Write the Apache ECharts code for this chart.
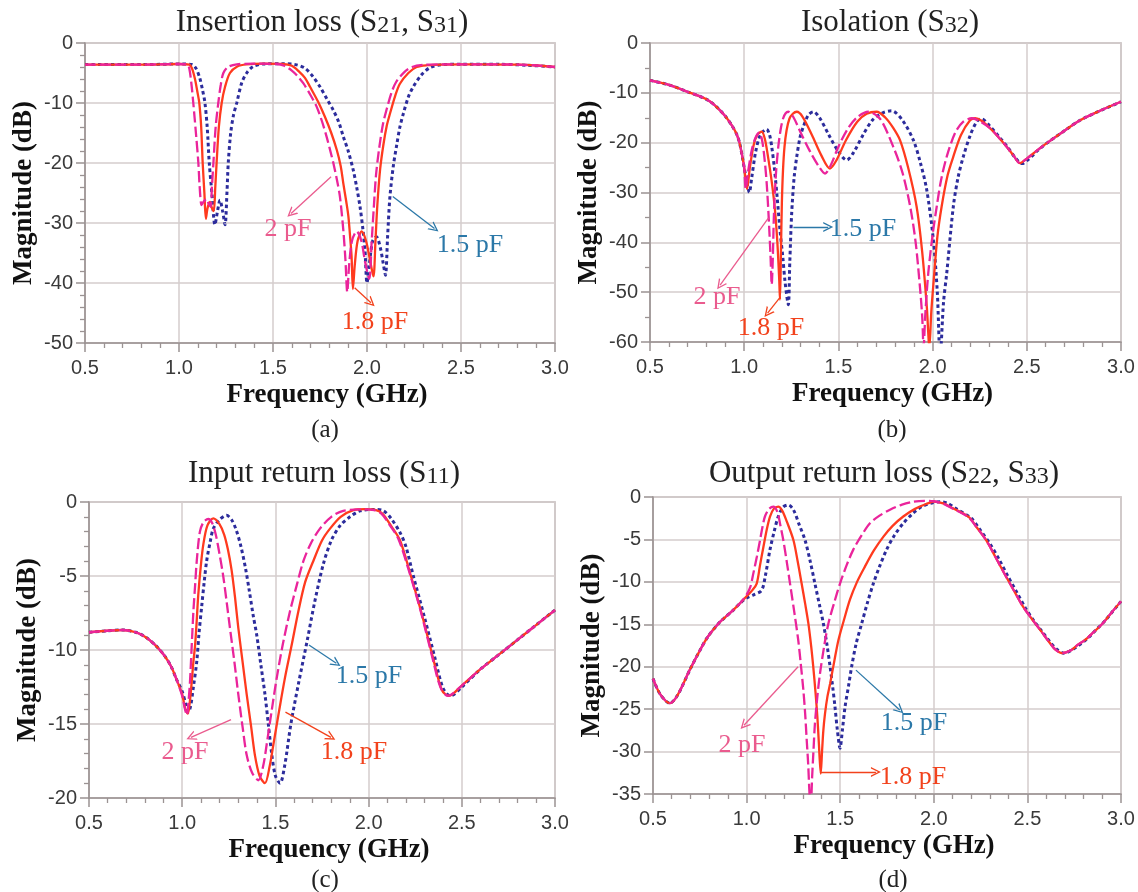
<!DOCTYPE html>
<html>
<head>
<meta charset="utf-8">
<title>Tunable response vs. capacitance</title>
<script src="https://cdn.jsdelivr.net/npm/echarts/dist/echarts.min.js"></script>
<style>
  html, body { margin: 0; padding: 0; background: #ffffff; }
  #chart { width: 1138px; height: 892px; }
</style>
</head>
<body>
<div id="chart"></div>
<script>
// ---------- data: [frequency (GHz), magnitude (dB)] ----------
const capLabels = ['1.5 pF', '1.8 pF', '2 pF'];
const freqTicks = [0.5, 1.0, 1.5, 2.0, 2.5, 3.0];

// (a) insertion loss S21, S31
const ilC15 = [[0.5,-3.6],[0.8,-3.6],[1.0,-3.5],[1.07,-3.6],[1.09,-4.2],[1.11,-5.8],[1.125,-7.8],[1.138,-10],[1.15,-14],[1.161,-20],[1.175,-25],[1.191,-30.3],[1.205,-28],[1.218,-26.2],[1.232,-28],[1.245,-30.3],[1.255,-25],[1.262,-20],[1.275,-15],[1.29,-12],[1.307,-10],[1.333,-6.7],[1.36,-5],[1.395,-3.9],[1.45,-3.5],[1.55,-3.45],[1.62,-3.6],[1.67,-4.2],[1.71,-5.5],[1.75,-7.3],[1.79,-9.5],[1.821,-11.2],[1.85,-13.2],[1.874,-15.6],[1.9,-18],[1.927,-21.2],[1.945,-24],[1.963,-27.3],[1.978,-31],[1.989,-34.5],[2.0,-40],[2.012,-37],[2.03,-33],[2.05,-32.3],[2.07,-34],[2.085,-36.5],[2.098,-38.7],[2.11,-32],[2.122,-25.6],[2.14,-20.5],[2.158,-17],[2.175,-14],[2.193,-11.8],[2.22,-9],[2.246,-7.3],[2.29,-5.3],[2.335,-4.1],[2.4,-3.6],[2.5,-3.55],[2.7,-3.55],[2.85,-3.7],[3.0,-4.0]];
const ilC18 = [[0.5,-3.6],[0.8,-3.6],[1.0,-3.5],[1.055,-3.6],[1.07,-4.3],[1.085,-6],[1.097,-8],[1.108,-10],[1.118,-14],[1.126,-20],[1.135,-25],[1.143,-29.3],[1.152,-27.5],[1.165,-26.5],[1.175,-27.5],[1.185,-28],[1.193,-24],[1.2,-20],[1.212,-14],[1.227,-10],[1.245,-7.3],[1.271,-5],[1.31,-3.9],[1.36,-3.55],[1.45,-3.45],[1.55,-3.5],[1.6,-3.8],[1.64,-4.8],[1.67,-5.8],[1.697,-7.3],[1.74,-9.8],[1.776,-12.3],[1.81,-15],[1.839,-17.8],[1.86,-20.5],[1.874,-23.4],[1.89,-26.5],[1.901,-28.9],[1.912,-33],[1.918,-35.6],[1.925,-41],[1.935,-37],[1.95,-33],[1.972,-31.4],[1.995,-33],[2.015,-36],[2.034,-38.9],[2.045,-33],[2.055,-27],[2.07,-21],[2.087,-17],[2.105,-13.8],[2.122,-11.8],[2.15,-8.8],[2.175,-6.8],[2.22,-5],[2.264,-4.0],[2.32,-3.7],[2.4,-3.6],[2.6,-3.55],[2.8,-3.6],[2.9,-3.75],[3.0,-4.0]];
const ilC20 = [[0.5,-3.6],[0.8,-3.6],[1.0,-3.5],[1.045,-3.6],[1.055,-4.3],[1.065,-6.5],[1.076,-10],[1.09,-15],[1.103,-20],[1.11,-24],[1.12,-27],[1.13,-26.5],[1.145,-26],[1.158,-26.8],[1.168,-27.3],[1.175,-24],[1.183,-20],[1.195,-14],[1.209,-10],[1.222,-7],[1.236,-5],[1.26,-4],[1.307,-3.55],[1.4,-3.45],[1.52,-3.5],[1.56,-3.8],[1.6,-4.6],[1.63,-5.5],[1.661,-6.7],[1.7,-8.7],[1.732,-10.6],[1.76,-13],[1.785,-15.6],[1.805,-18],[1.821,-20],[1.84,-22.8],[1.856,-25.6],[1.874,-31.2],[1.885,-36],[1.895,-41.5],[1.905,-37],[1.92,-33],[1.945,-31.4],[1.97,-33],[1.99,-36.5],[2.012,-39.3],[2.025,-33],[2.035,-28],[2.048,-22],[2.065,-17.5],[2.085,-13.5],[2.105,-11],[2.13,-8.3],[2.155,-6.5],[2.2,-4.8],[2.24,-4.0],[2.3,-3.65],[2.4,-3.55],[2.6,-3.55],[2.8,-3.6],[2.9,-3.75],[3.0,-4.0]];

// (b) isolation S32
const isoC15 = [[0.5,-7.5],[0.6,-8.4],[0.7,-9.8],[0.8,-11.3],[0.85,-12.7],[0.9,-14.7],[0.935,-16.6],[0.96,-18.3],[0.975,-20],[0.99,-22.8],[1.0,-25],[1.015,-28],[1.027,-30],[1.04,-27],[1.06,-22],[1.085,-18.5],[1.119,-17.3],[1.135,-18.5],[1.146,-20.8],[1.16,-25],[1.175,-31],[1.19,-37.6],[1.205,-43],[1.217,-48],[1.234,-52.5],[1.242,-44],[1.252,-34.2],[1.265,-27],[1.279,-22.8],[1.296,-19],[1.314,-16.8],[1.34,-14.5],[1.367,-13.8],[1.4,-15],[1.45,-18.5],[1.5,-21.8],[1.544,-23.5],[1.58,-22],[1.63,-18.5],[1.68,-15.5],[1.73,-14.1],[1.782,-13.6],[1.84,-15.5],[1.898,-19.5],[1.935,-24],[1.969,-29.5],[2.004,-39.5],[2.025,-50],[2.04,-63],[2.058,-52],[2.075,-46.2],[2.11,-32.8],[2.135,-27],[2.163,-22.8],[2.2,-18.5],[2.234,-15.8],[2.26,-15.2],[2.3,-16.5],[2.35,-18.7],[2.4,-21],[2.44,-23.1],[2.475,-24.2],[2.51,-23.3],[2.56,-21.5],[2.61,-20],[2.7,-17.6],[2.783,-15.5],[2.9,-13.4],[3.0,-11.8]];
const isoC18 = [[0.5,-7.5],[0.6,-8.4],[0.7,-9.8],[0.8,-11.3],[0.85,-12.7],[0.9,-14.7],[0.935,-16.6],[0.96,-18.3],[0.975,-20],[0.99,-22.8],[1.0,-25],[1.015,-29.3],[1.03,-25],[1.05,-20.5],[1.07,-18.4],[1.093,-17.8],[1.11,-19.3],[1.125,-22.5],[1.145,-27.5],[1.162,-33],[1.176,-40],[1.186,-47.6],[1.19,-51.5],[1.195,-42],[1.2,-32],[1.206,-25.5],[1.214,-20.8],[1.225,-17.5],[1.24,-15.2],[1.258,-14.2],[1.279,-13.8],[1.31,-14.8],[1.36,-18.5],[1.41,-22.6],[1.455,-25.2],[1.49,-23.5],[1.54,-19.5],[1.6,-15.8],[1.65,-14.2],[1.703,-13.8],[1.75,-15.0],[1.79,-17],[1.827,-19.5],[1.87,-25],[1.915,-32.8],[1.945,-42],[1.969,-52.8],[1.983,-61],[1.993,-54],[2.004,-48.5],[2.025,-39],[2.048,-32.8],[2.08,-26.5],[2.11,-22.8],[2.15,-18.5],[2.199,-15.5],[2.226,-15.1],[2.26,-15.6],[2.305,-17.1],[2.35,-18.9],[2.393,-20.8],[2.43,-22.6],[2.464,-24.1],[2.5,-23.2],[2.55,-21.7],[2.606,-20.1],[2.7,-17.6],[2.783,-15.5],[2.9,-13.4],[3.0,-11.8]];
const isoC20 = [[0.5,-7.5],[0.6,-8.4],[0.7,-9.8],[0.8,-11.3],[0.85,-12.7],[0.9,-14.7],[0.935,-16.6],[0.96,-18.3],[0.975,-20],[0.99,-22.8],[1.0,-25],[1.008,-29.3],[1.02,-26],[1.04,-21.5],[1.06,-19],[1.08,-18],[1.095,-19.5],[1.11,-24],[1.12,-28.5],[1.13,-35],[1.14,-43],[1.146,-48.5],[1.152,-43],[1.158,-34.2],[1.168,-26.5],[1.181,-20.8],[1.195,-17],[1.207,-15.1],[1.22,-14.1],[1.234,-13.8],[1.26,-14.8],[1.3,-18],[1.35,-21.8],[1.4,-25],[1.429,-26.2],[1.46,-24.5],[1.5,-20.8],[1.55,-17.2],[1.6,-14.9],[1.659,-13.8],[1.721,-15.2],[1.792,-20.9],[1.84,-26],[1.881,-32.8],[1.91,-40],[1.934,-49.5],[1.945,-55],[1.952,-61],[1.962,-54],[1.977,-46.2],[2.0,-38.5],[2.022,-32.8],[2.045,-27.5],[2.075,-22.8],[2.12,-18],[2.163,-15.8],[2.208,-15.1],[2.25,-15.7],[2.305,-17.1],[2.35,-18.9],[2.393,-20.8],[2.43,-22.6],[2.464,-24.1],[2.5,-23.2],[2.55,-21.7],[2.606,-20.1],[2.7,-17.6],[2.783,-15.5],[2.9,-13.4],[3.0,-11.8]];

// (c) input return loss S11
const s11C15 = [[0.5,-8.8],[0.6,-8.7],[0.68,-8.65],[0.75,-8.8],[0.8,-9.1],[0.85,-9.6],[0.9,-10.3],[0.94,-11.1],[0.97,-12],[1.0,-12.8],[1.02,-13.7],[1.033,-14.2],[1.045,-13.8],[1.06,-12.5],[1.078,-10.8],[1.09,-8.9],[1.105,-7.0],[1.118,-5.4],[1.131,-4.0],[1.15,-2.7],[1.167,-1.8],[1.2,-1.2],[1.238,-0.9],[1.265,-1.2],[1.29,-1.9],[1.315,-3.0],[1.34,-4.5],[1.36,-6.0],[1.38,-7.6],[1.4,-9.0],[1.422,-11.0],[1.444,-13.0],[1.462,-15.0],[1.48,-17.0],[1.5,-18.5],[1.525,-19.0],[1.55,-17.8],[1.583,-15.0],[1.625,-12.2],[1.67,-9.4],[1.71,-6.8],[1.757,-4.2],[1.8,-2.6],[1.847,-1.6],[1.9,-1.0],[1.954,-0.6],[2.03,-0.5],[2.08,-0.6],[2.12,-1.1],[2.17,-2.1],[2.2,-3.0],[2.24,-5.0],[2.3,-7.8],[2.355,-10.5],[2.4,-12.6],[2.44,-13.1],[2.5,-12.5],[2.6,-11.3],[2.7,-10.3],[2.8,-9.3],[2.9,-8.3],[3.0,-7.3]];
const s11C18 = [[0.5,-8.8],[0.6,-8.7],[0.68,-8.65],[0.75,-8.8],[0.8,-9.1],[0.85,-9.6],[0.9,-10.3],[0.94,-11.1],[0.97,-12],[1.0,-13.0],[1.015,-13.9],[1.03,-14.3],[1.04,-13.6],[1.05,-12.3],[1.06,-10.8],[1.069,-9.7],[1.078,-8],[1.086,-6.3],[1.1,-4.3],[1.113,-2.9],[1.135,-1.6],[1.167,-1.1],[1.2,-1.5],[1.225,-2.2],[1.245,-3.2],[1.265,-4.6],[1.283,-6.4],[1.301,-8.5],[1.325,-10.9],[1.346,-13.0],[1.37,-15.2],[1.39,-17.1],[1.415,-18.5],[1.444,-19.0],[1.47,-17.8],[1.489,-16.4],[1.52,-14.1],[1.551,-11.9],[1.59,-9.5],[1.623,-7.4],[1.66,-5.4],[1.703,-4.0],[1.75,-2.6],[1.793,-1.8],[1.85,-1.0],[1.918,-0.55],[1.98,-0.48],[2.04,-0.55],[2.075,-0.8],[2.12,-1.6],[2.169,-2.6],[2.227,-5.0],[2.286,-7.6],[2.344,-10.45],[2.393,-12.7],[2.431,-13.1],[2.5,-12.4],[2.6,-11.3],[2.7,-10.3],[2.8,-9.3],[2.9,-8.3],[3.0,-7.3]];
const s11C20 = [[0.5,-8.8],[0.6,-8.7],[0.68,-8.65],[0.75,-8.8],[0.8,-9.1],[0.85,-9.6],[0.9,-10.3],[0.94,-11.1],[0.97,-12],[1.0,-13.1],[1.015,-14],[1.025,-14.4],[1.035,-13.3],[1.042,-12.1],[1.05,-10],[1.06,-7.4],[1.07,-5.5],[1.078,-4.0],[1.095,-2.0],[1.115,-1.35],[1.14,-1.15],[1.16,-1.4],[1.18,-2.2],[1.2,-3.5],[1.22,-5.0],[1.24,-6.9],[1.256,-8.5],[1.28,-10.8],[1.301,-13.0],[1.325,-15.3],[1.346,-17.1],[1.375,-18.3],[1.408,-18.8],[1.435,-17.8],[1.453,-16.4],[1.48,-14.1],[1.507,-11.9],[1.54,-9.6],[1.578,-7.4],[1.615,-5.6],[1.65,-4.0],[1.69,-2.8],[1.739,-1.8],[1.8,-1.0],[1.864,-0.6],[1.95,-0.5],[2.03,-0.55],[2.07,-0.8],[2.11,-1.5],[2.16,-2.5],[2.22,-4.8],[2.28,-7.4],[2.34,-10.4],[2.385,-12.5],[2.425,-13.1],[2.5,-12.4],[2.6,-11.3],[2.7,-10.3],[2.8,-9.3],[2.9,-8.3],[3.0,-7.3]];

// (d) output return loss S22, S33
const s22C15 = [[0.5,-21.4],[0.54,-23.3],[0.59,-24.3],[0.63,-23.4],[0.696,-20.4],[0.75,-18.1],[0.792,-16.5],[0.85,-14.9],[0.889,-14.1],[0.93,-13.3],[0.966,-12.5],[1.0,-11.9],[1.04,-11.5],[1.08,-11.0],[1.1,-9.3],[1.125,-6.2],[1.148,-4.0],[1.169,-2.3],[1.195,-1.2],[1.223,-0.94],[1.25,-1.5],[1.28,-3.2],[1.312,-5.07],[1.34,-7.6],[1.365,-10.2],[1.39,-12.8],[1.41,-14.9],[1.43,-17.5],[1.446,-20.0],[1.46,-22.4],[1.472,-24.7],[1.485,-27.5],[1.499,-29.6],[1.512,-27.4],[1.526,-24.7],[1.545,-22.2],[1.561,-20.0],[1.585,-17.3],[1.615,-14.9],[1.645,-12.5],[1.677,-10.2],[1.71,-8.2],[1.748,-6.2],[1.79,-4.5],[1.837,-3.1],[1.885,-2.0],[1.935,-1.14],[1.99,-0.7],[2.033,-0.55],[2.07,-0.7],[2.12,-1.4],[2.2,-2.5],[2.245,-3.8],[2.3,-5.5],[2.35,-7.4],[2.395,-9.3],[2.445,-11.3],[2.49,-13.1],[2.535,-14.6],[2.58,-15.9],[2.625,-17.2],[2.66,-18.0],[2.695,-18.4],[2.74,-18.0],[2.78,-17.4],[2.82,-16.7],[2.86,-15.8],[2.91,-14.7],[2.955,-13.5],[3.0,-12.3]];
const s22C18 = [[0.5,-21.4],[0.54,-23.3],[0.59,-24.3],[0.63,-23.4],[0.696,-20.4],[0.75,-18.1],[0.792,-16.5],[0.85,-14.9],[0.889,-14.1],[0.93,-13.3],[0.966,-12.5],[1.0,-11.7],[1.03,-11],[1.054,-10.2],[1.072,-8],[1.09,-5.86],[1.108,-3.8],[1.125,-2.3],[1.145,-1.4],[1.169,-1.14],[1.19,-1.6],[1.215,-2.9],[1.25,-5.07],[1.273,-7.6],[1.294,-10.2],[1.313,-12.6],[1.33,-14.9],[1.345,-17.6],[1.356,-20.0],[1.368,-23],[1.378,-25.9],[1.386,-29],[1.396,-32.6],[1.403,-30],[1.41,-27.5],[1.419,-25.5],[1.432,-23.5],[1.446,-22],[1.468,-19.4],[1.49,-16.9],[1.52,-14.5],[1.552,-12.1],[1.59,-10],[1.632,-8.2],[1.68,-6.3],[1.73,-4.7],[1.78,-3.4],[1.837,-2.3],[1.9,-1.4],[1.962,-0.8],[2.0,-0.55],[2.05,-0.75],[2.1,-1.3],[2.186,-2.35],[2.23,-3.6],[2.283,-5.2],[2.33,-7.1],[2.379,-9.1],[2.43,-11.1],[2.476,-12.9],[2.525,-14.4],[2.573,-15.8],[2.62,-17.2],[2.65,-18.0],[2.685,-18.4],[2.73,-18.1],[2.77,-17.4],[2.805,-16.9],[2.85,-16.0],[2.902,-14.9],[2.95,-13.6],[3.0,-12.3]];
const s22C20 = [[0.5,-21.4],[0.54,-23.3],[0.59,-24.3],[0.63,-23.4],[0.696,-20.4],[0.75,-18.1],[0.792,-16.5],[0.85,-14.9],[0.889,-14.1],[0.93,-13.3],[0.966,-12.5],[1.0,-11.5],[1.02,-10.6],[1.036,-9.0],[1.055,-7],[1.072,-5.07],[1.085,-3.5],[1.098,-2.3],[1.12,-1.4],[1.143,-1.14],[1.165,-1.8],[1.18,-3.3],[1.196,-5.07],[1.215,-7.7],[1.232,-10.2],[1.255,-13.6],[1.276,-16.9],[1.29,-19.8],[1.303,-22.7],[1.313,-25.6],[1.321,-28.6],[1.329,-31.5],[1.335,-34.5],[1.342,-37],[1.35,-33],[1.357,-30],[1.365,-26.7],[1.378,-23.5],[1.392,-20.8],[1.415,-17.5],[1.437,-14.9],[1.47,-12.3],[1.499,-10.2],[1.535,-8],[1.57,-6.2],[1.615,-4.5],[1.659,-3.1],[1.71,-2.2],[1.766,-1.5],[1.83,-0.9],[1.891,-0.55],[1.95,-0.45],[2.0,-0.5],[2.05,-0.8],[2.1,-1.35],[2.186,-2.4],[2.23,-3.6],[2.283,-5.2],[2.33,-7.1],[2.379,-9.1],[2.43,-11.1],[2.476,-12.9],[2.525,-14.4],[2.573,-15.8],[2.62,-17.2],[2.65,-18.0],[2.685,-18.4],[2.73,-18.1],[2.77,-17.4],[2.805,-16.9],[2.85,-16.0],[2.902,-14.9],[2.95,-13.6],[3.0,-12.3]];

// callouts: curve index (0 = 1.5 pF, 1 = 1.8 pF, 2 = 2 pF), arrow tail, arrow head, text centre (data units)
const notesIL  = [[2, [1.809,-22.3], [1.596,-28.4], [1.58,-31.0]],
                  [1, [1.934,-40.8], [2.021,-43.3], [2.043,-46.5]],
                  [0, [2.137,-25.6], [2.359,-30.9], [2.548,-33.7]]];
const notesISO = [[0, [1.261,-36.9], [1.446,-36.9], [1.631,-37.4]],
                  [2, [1.129,-35.1], [0.872,-48.6], [0.856,-51.0]],
                  [1, [1.187,-51.2], [1.124,-54.2], [1.142,-57.2]]];
const notesS11 = [[0, [1.680,-9.66], [1.827,-10.9], [2.002,-11.8]],
                  [2, [1.262,-14.7], [1.047,-15.9], [1.015,-16.9]],
                  [1, [1.554,-14.2], [1.798,-15.9], [1.922,-16.9]]];
const notesS22 = [[0, [1.584,-20.4], [1.818,-25.1], [1.894,-26.7]],
                  [2, [1.275,-20.0], [0.986,-26.9], [0.975,-29.2]],
                  [1, [1.392,-32.4], [1.691,-32.4], [1.889,-33.0]]];

// ---------- styling ----------
const SERIF = 'Liberation Serif';
const SANS = 'Liberation Sans';
const AXIS_GREY = '#9b9393';
const GRID_GREY = '#d4cdcd';
const curveStyles = [
  { color: '#2c2c9c', width: 3.0, type: [3.5, 3], cap: 'butt' },   // 1.5 pF dotted
  { color: '#ff3a1e', width: 2.3, type: 'solid' },                // 1.8 pF solid
  { color: '#ea249b', width: 2.3, type: [11, 4], cap: 'butt' }    // 2 pF dashed
];
const noteColors = ['#2b78a8', '#f2421c', '#ea5b8e'];
const arrowHead = 'path://M5,0 L10,10 L8.5,10 L5,2.9 L1.5,10 L0,10 Z';

const panels = [
  { grid: { left: 85,  top: 43,  width: 470, height: 300 }, yMin: -50, yStep: 10, yMinor: 5,
    title: 'Insertion loss (S{s|21}, S{s|31})', tx: 322, ty: 7, letter: '(a)', lx: 325, ly: 418,
    curves: [ilC15, ilC18, ilC20], notes: notesIL },
  { grid: { left: 650, top: 43,  width: 471, height: 299 }, yMin: -60, yStep: 10, yMinor: 2,
    title: 'Isolation (S{s|32})', tx: 890, ty: 7, letter: '(b)', lx: 892, ly: 418,
    curves: [isoC15, isoC18, isoC20], notes: notesISO },
  { grid: { left: 89,  top: 502, width: 466, height: 296 }, yMin: -20, yStep: 5, yMinor: 5,
    title: 'Input return loss (S{s|11})', tx: 324, ty: 458, letter: '(c)', lx: 325, ly: 868,
    curves: [s11C15, s11C18, s11C20], notes: notesS11 },
  { grid: { left: 653, top: 497, width: 468, height: 297 }, yMin: -35, yStep: 5, yMinor: 0,
    title: 'Output return loss (S{s|22}, S{s|33})', tx: 884, ty: 458, letter: '(d)', lx: 893, ly: 868,
    curves: [s22C15, s22C18, s22C20], notes: notesS22 }
];

const option = {
  backgroundColor: '#ffffff',
  animation: false,
  title: [],
  grid: [],
  xAxis: [],
  yAxis: [],
  series: []
};

panels.forEach((p, i) => {
  option.grid.push(Object.assign({
    show: true, borderColor: '#b5adad', borderWidth: 1.5,
    backgroundColor: 'transparent', containLabel: false, outerBoundsMode: 'none'
  }, p.grid));

  option.title.push({
    text: p.title, left: p.tx, top: p.ty, textAlign: 'center', padding: 0,
    textStyle: {
      fontFamily: SERIF, fontSize: 31, fontWeight: 'normal', color: '#222',
      rich: { s: { fontFamily: SERIF, fontSize: 24, color: '#222', verticalAlign: 'bottom' } }
    }
  });
  option.title.push({
    text: p.letter, left: p.lx, top: p.ly, textAlign: 'center', padding: 0,
    textStyle: { fontFamily: SERIF, fontSize: 25, fontWeight: 'normal', color: '#222' }
  });

  option.xAxis.push({
    gridIndex: i, type: 'value', min: freqTicks[0], max: freqTicks[freqTicks.length - 1], interval: 0.5,
    axisLine: { show: true, onZero: false, lineStyle: { color: AXIS_GREY, width: 1.6 } },
    axisTick: { show: true, inside: false, length: 9, lineStyle: { color: AXIS_GREY, width: 1.5 } },
    minorTick: { show: true, splitNumber: 5, length: 5, lineStyle: { color: AXIS_GREY, width: 1.3 } },
    splitLine: { show: true, lineStyle: { color: GRID_GREY, width: 1.5 } },
    axisLabel: { margin: 15, fontFamily: SANS, fontSize: 20, color: '#3a3a3a',
                 showMinLabel: true, showMaxLabel: true, formatter: v => v.toFixed(1) },
    name: 'Frequency (GHz)', nameLocation: 'middle', nameGap: 39, nameMoveOverlap: false,
    nameTextStyle: { fontFamily: SERIF, fontWeight: 'bold', fontSize: 27, color: '#111',
                     padding: [0, 0, 0, 14] }
  });

  option.yAxis.push({
    gridIndex: i, type: 'value', min: p.yMin, max: 0, interval: p.yStep,
    axisLine: { show: true, onZero: false, lineStyle: { color: AXIS_GREY, width: 1.6 } },
    axisTick: { show: true, inside: false, length: 9, lineStyle: { color: AXIS_GREY, width: 1.5 } },
    minorTick: { show: p.yMinor > 0, splitNumber: p.yMinor || 5, length: 5, lineStyle: { color: AXIS_GREY, width: 1.3 } },
    splitLine: { show: true, lineStyle: { color: GRID_GREY, width: 1.5 } },
    axisLabel: { margin: 12, fontFamily: SANS, fontSize: 20, color: '#3a3a3a',
                 showMinLabel: true, showMaxLabel: true },
    name: 'Magnitude (dB)', nameLocation: 'middle', nameGap: 47, nameRotate: 90, nameMoveOverlap: false,
    nameTextStyle: { fontFamily: SERIF, fontWeight: 'bold', fontSize: 27, color: '#111' }
  });

  p.curves.forEach((data, k) => {
    const notes = p.notes.filter(n => n[0] === k);
    option.series.push({
      name: capLabels[k], type: 'line', xAxisIndex: i, yAxisIndex: i,
      data: data, showSymbol: false, symbol: 'none', smooth: 0.3, clip: true,
      z: 2 + k, lineStyle: curveStyles[k], silent: true,
      markLine: {
        silent: true, animation: false, symbol: ['none', arrowHead], symbolSize: 10,
        label: { show: false }, emphasis: { disabled: true },
        lineStyle: { color: noteColors[k], width: 1.3, type: 'solid' },
        data: notes.map(n => [{ coord: n[1] }, { coord: n[2] }])
      },
      markPoint: {
        silent: true, animation: false, symbol: 'rect', symbolSize: 1,
        itemStyle: { color: 'rgba(0,0,0,0)' },
        label: { show: true, position: 'inside', formatter: capLabels[k],
                 fontFamily: SERIF, fontSize: 26, color: noteColors[k] },
        data: notes.map(n => ({ coord: n[3] }))
      }
    });
  });
});

const chart = echarts.init(document.getElementById('chart'), null, { renderer: 'canvas' });
chart.setOption(option);
</script>
</body>
</html>
